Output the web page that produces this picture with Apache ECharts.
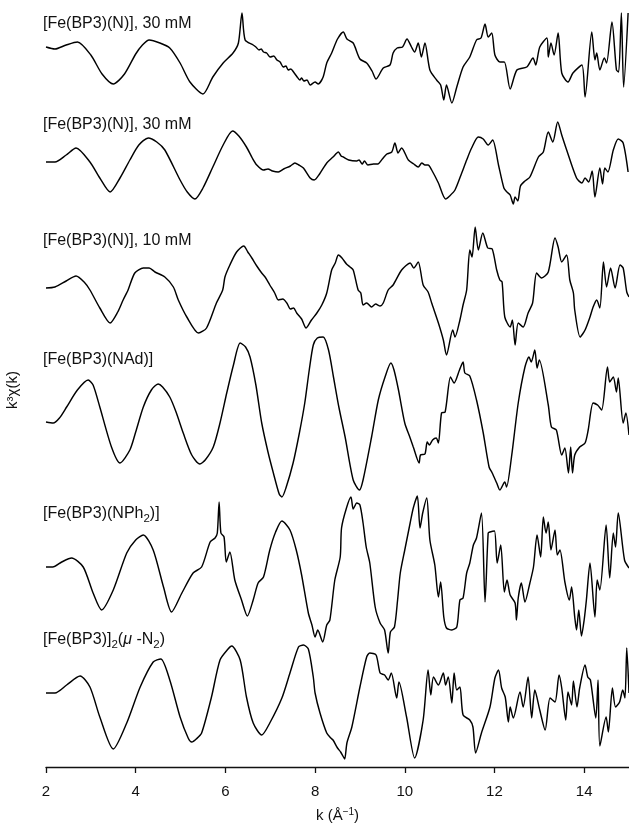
<!DOCTYPE html>
<html>
<head>
<meta charset="utf-8">
<title>EXAFS k3-weighted spectra</title>
<script src="https://cdn.jsdelivr.net/npm/echarts@6/dist/echarts.min.js"></script>
<style>
  html, body { margin: 0; padding: 0; background: #fff; }
  #chart { width: 629px; height: 827px; }
</style>
</head>
<body>
<div id="chart"></div>
<script>
// k axis tick labels (Å^-1)
const kTicks = [2, 4, 6, 8, 10, 12, 14];

// Sample names, top to bottom ({s|..} = subscript, {i|..} = italic)
const sampleNames = [
  '[Fe(BP3)(N)], 30 mM',
  '[Fe(BP3)(N)], 30 mM',
  '[Fe(BP3)(N)], 10 mM',
  '[Fe(BP3)(NAd)]',
  '[Fe(BP3)(NPh{s|2})]',
  '[Fe(BP3)]{s|2}({i|μ} -N{s|2})'
];

// k^3 chi(k) traces, [k, value] in arbitrary units
const traceN30a = [[2.00,0],[2.20,-2],[2.45,2],[2.70,5],[3.00,-8],[3.25,-27],[3.50,-37],[3.75,-27],[4.00,-7],[4.15,2],[4.30,7],[4.54,4],[4.76,-1],[4.99,-16],[5.21,-35],[5.50,-47],[5.72,-30],[5.95,-16],[6.17,-6],[6.29,4],[6.37,34],[6.44,7],[6.62,2],[6.68,0],[6.75,-3],[6.80,-2],[6.85,-5],[6.92,-6],[7.00,-10],[7.08,-9],[7.15,-13],[7.22,-15],[7.29,-20],[7.35,-19],[7.40,-23],[7.46,-22],[7.52,-25],[7.60,-30],[7.66,-33],[7.70,-31],[7.75,-34],[7.82,-33],[7.89,-38],[8.00,-35],[8.07,-37],[8.18,-30],[8.26,-16],[8.37,-6],[8.50,8],[8.63,15],[8.71,8],[8.85,4],[9.00,-12],[9.15,-16],[9.27,-24],[9.36,-32],[9.52,-21],[9.67,-18],[9.74,-6],[9.83,-1],[9.95,0],[10.05,8],[10.15,0],[10.22,-5],[10.30,4],[10.37,-10],[10.45,4],[10.56,-23],[10.71,-33],[10.80,-38],[10.87,-53],[10.93,-38],[11.05,-56],[11.16,-40],[11.30,-20],[11.45,-10],[11.60,7],[11.70,9],[11.79,23],[11.86,10],[11.94,14],[12.01,-8],[12.12,-15],[12.22,-15],[12.35,-42],[12.50,-23],[12.72,-20],[12.86,-11],[12.92,-18],[13.01,0],[13.17,9],[13.20,-10],[13.26,4],[13.33,-8],[13.42,14],[13.50,-26],[13.64,-35],[13.75,-26],[13.95,-18],[14.02,-50],[14.17,15],[14.24,-13],[14.28,-6],[14.35,-23],[14.45,-11],[14.50,-16],[14.62,25],[14.72,-23],[14.77,-25],[14.83,34],[14.88,-40],[14.98,34]];

const traceN30b = [[2.00,0],[2.20,0],[2.45,7],[2.67,14],[2.98,0],[3.20,-16],[3.43,-30],[3.65,-16],[3.87,2],[4.07,17],[4.28,24],[4.47,20],[4.65,12],[4.99,-18],[5.15,-30],[5.32,-37],[5.50,-26],[5.72,-5],[5.95,17],[6.16,31],[6.30,26],[6.47,15],[6.60,4],[6.70,-3],[6.85,-8],[6.95,-7],[7.05,-9],[7.18,-10],[7.30,-7],[7.45,-4],[7.55,-1],[7.64,-3],[7.74,-6],[7.89,-16],[7.98,-18],[8.10,-12],[8.26,-1],[8.40,5],[8.52,10],[8.58,6],[8.63,5],[8.75,2],[8.93,1],[8.98,2],[9.05,-2],[9.10,1],[9.18,-3],[9.30,-2],[9.40,-2],[9.50,3],[9.60,8],[9.71,10],[9.78,19],[9.85,9],[9.93,14],[10.08,2],[10.20,-2],[10.30,-5],[10.38,-1],[10.45,-3],[10.52,-3],[10.60,-8],[10.75,-21],[10.91,-37],[11.00,-34],[11.12,-28],[11.27,-11],[11.38,2],[11.49,14],[11.64,25],[11.75,23],[11.86,17],[11.96,22],[12.09,-3],[12.21,-26],[12.28,-30],[12.35,-33],[12.42,-42],[12.46,-35],[12.52,-39],[12.58,-24],[12.68,-19],[12.79,-15],[12.98,5],[13.09,10],[13.20,30],[13.30,20],[13.41,40],[13.50,27],[13.61,12],[13.83,-16],[13.95,-21],[14.02,-16],[14.10,-20],[14.18,-9],[14.24,-35],[14.35,-6],[14.41,-22],[14.46,-6],[14.53,-10],[14.65,12],[14.76,23],[14.87,19],[14.98,-10]];

const traceN10 = [[2.00,0],[2.20,1],[2.45,7],[2.67,12],[2.85,6],[2.98,-2],[3.20,-20],[3.43,-35],[3.60,-24],[3.72,-12],[3.83,-2],[3.98,15],[4.17,20],[4.30,20],[4.43,16],[4.65,11],[4.84,1],[4.95,-12],[5.14,-29],[5.40,-45],[5.58,-40],[5.80,-15],[5.94,-2],[5.99,11],[6.10,23],[6.25,36],[6.41,42],[6.50,36],[6.59,30],[6.70,22],[6.81,15],[6.90,10],[6.99,3],[7.10,-5],[7.18,-12],[7.28,-11],[7.37,-15],[7.45,-21],[7.52,-20],[7.59,-25],[7.70,-31],[7.80,-40],[7.92,-32],[8.04,-25],[8.15,-17],[8.26,-5],[8.37,18],[8.45,25],[8.52,33],[8.60,30],[8.70,24],[8.78,21],[8.85,18],[8.96,-2],[9.02,-5],[9.07,-17],[9.15,-15],[9.26,-19],[9.35,-16],[9.45,-18],[9.52,-15],[9.63,-2],[9.74,3],[9.93,18],[10.12,25],[10.20,20],[10.30,26],[10.41,3],[10.52,-4],[10.60,-15],[10.75,-35],[10.86,-52],[10.93,-67],[11.07,-42],[11.12,-49],[11.23,-32],[11.30,-17],[11.38,-2],[11.45,38],[11.50,31],[11.57,61],[11.64,38],[11.74,55],[11.85,40],[11.95,39],[12.05,18],[12.12,8],[12.17,6],[12.23,-29],[12.35,-39],[12.40,-32],[12.46,-57],[12.53,-35],[12.64,-39],[12.75,-25],[12.85,-15],[12.94,15],[13.05,10],[13.20,16],[13.35,50],[13.42,41],[13.50,26],[13.61,33],[13.68,8],[13.76,-5],[13.79,-22],[13.91,-49],[14.02,-42],[14.13,-29],[14.20,-19],[14.28,-12],[14.35,-20],[14.43,26],[14.50,1],[14.59,20],[14.69,0],[14.80,23],[14.87,20],[14.95,-4],[15.00,-9]];

const traceNAd = [[2.00,0],[2.16,-1],[2.30,4],[2.46,15],[2.70,32],[2.94,42],[3.05,37],[3.20,15],[3.46,-25],[3.65,-41],[3.87,-28],[4.00,-10],[4.17,15],[4.35,32],[4.50,38],[4.60,35],[4.76,25],[4.90,10],[5.06,-11],[5.25,-33],[5.43,-42],[5.55,-38],[5.73,-25],[5.88,-1],[6.03,29],[6.18,57],[6.33,79],[6.45,75],[6.55,65],[6.68,37],[6.81,-1],[6.95,-30],[7.07,-51],[7.20,-72],[7.26,-75],[7.35,-66],[7.51,-41],[7.65,-11],[7.77,19],[7.87,52],[7.96,77],[8.05,84],[8.18,85],[8.30,72],[8.41,45],[8.53,15],[8.67,-15],[8.85,-58],[8.99,-68],[9.07,-58],[9.26,-15],[9.41,22],[9.56,45],[9.69,59],[9.76,52],[9.86,32],[10.00,-1],[10.12,-16],[10.19,-25],[10.32,-41],[10.35,-33],[10.45,-32],[10.50,-20],[10.55,-23],[10.62,-18],[10.70,-16],[10.75,-21],[10.82,9],[10.90,10],[11.02,45],[11.10,39],[11.22,52],[11.30,60],[11.34,49],[11.45,46],[11.60,22],[11.75,-11],[11.88,-45],[11.95,-51],[12.05,-61],[12.12,-68],[12.23,-60],[12.27,-65],[12.38,-35],[12.53,19],[12.68,55],[12.77,65],[12.82,60],[12.90,72],[12.95,54],[13.00,62],[13.20,17],[13.27,-5],[13.38,-8],[13.50,-33],[13.57,-26],[13.65,-51],[13.70,-25],[13.74,-51],[13.79,-33],[13.90,-25],[14.02,-21],[14.09,-8],[14.20,19],[14.30,17],[14.39,12],[14.52,55],[14.57,40],[14.65,45],[14.72,30],[14.76,44],[14.87,-1],[14.93,9],[15.00,-13]];

const traceNPh2 = [[2.00,0],[2.15,0],[2.35,5],[2.57,9],[2.83,0],[3.05,-26],[3.24,-43],[3.50,-23],[3.80,14],[4.00,27],[4.17,32],[4.39,17],[4.62,-20],[4.80,-45],[5.03,-26],[5.28,-6],[5.47,0],[5.66,25],[5.77,29],[5.82,34],[5.86,65],[5.90,34],[5.97,30],[6.02,5],[6.10,15],[6.21,-13],[6.36,-33],[6.49,-49],[6.62,-33],[6.73,-16],[6.85,-10],[6.99,17],[7.12,35],[7.26,46],[7.44,37],[7.58,17],[7.70,-8],[7.85,-46],[7.93,-58],[8.00,-70],[8.06,-63],[8.17,-75],[8.26,-58],[8.33,-53],[8.44,-13],[8.56,10],[8.59,39],[8.70,59],[8.80,70],[8.85,58],[8.93,64],[9.00,62],[9.07,44],[9.14,20],[9.22,4],[9.34,-40],[9.45,-56],[9.55,-63],[9.63,-86],[9.68,-65],[9.77,-60],[9.84,-33],[9.90,-6],[10.00,17],[10.12,44],[10.19,59],[10.28,71],[10.34,39],[10.40,54],[10.49,69],[10.56,27],[10.67,2],[10.75,-30],[10.80,-15],[10.87,-50],[10.93,-61],[11.05,-63],[11.16,-60],[11.23,-33],[11.30,-31],[11.38,-6],[11.45,4],[11.53,22],[11.60,29],[11.71,54],[11.79,-35],[11.86,34],[11.90,35],[12.00,36],[12.06,4],[12.14,22],[12.22,-25],[12.28,-13],[12.35,-28],[12.46,-36],[12.49,-53],[12.53,-31],[12.60,-16],[12.68,-35],[12.79,-16],[12.87,0],[12.95,32],[13.03,10],[13.09,50],[13.15,34],[13.20,45],[13.26,17],[13.35,37],[13.40,12],[13.46,17],[13.57,-15],[13.67,-33],[13.72,-20],[13.79,-50],[13.83,-63],[13.88,-43],[13.94,-69],[14.00,-53],[14.05,-33],[14.13,4],[14.24,-50],[14.29,-13],[14.35,-23],[14.49,42],[14.57,-11],[14.65,34],[14.70,20],[14.76,54],[14.90,7],[15.00,-1]];

const traceN2 = [[2.00,0],[2.20,0],[2.46,8],[2.76,17],[2.98,6],[3.20,-24],[3.50,-56],[3.80,-30],[4.10,6],[4.39,31],[4.56,34],[4.76,13],[4.99,-24],[5.17,-45],[5.25,-49],[5.35,-46],[5.47,-40],[5.69,-4],[5.88,33],[6.06,44],[6.14,47],[6.33,33],[6.47,-4],[6.62,-30],[6.81,-42],[6.99,-30],[7.26,-5],[7.44,20],[7.63,46],[7.74,48],[7.85,44],[7.96,16],[8.00,0],[8.11,-20],[8.26,-40],[8.35,-45],[8.40,-47],[8.50,-55],[8.57,-59],[8.62,-63],[8.66,-66],[8.71,-50],[8.82,-34],[9.00,6],[9.15,36],[9.22,40],[9.36,38],[9.45,20],[9.55,18],[9.63,13],[9.70,20],[9.82,-5],[9.87,11],[10.04,-24],[10.22,-65],[10.41,-27],[10.52,23],[10.58,-2],[10.64,16],[10.75,8],[10.86,20],[10.91,8],[10.97,16],[11.05,-10],[11.10,20],[11.16,3],[11.23,6],[11.30,-22],[11.45,-27],[11.52,-34],[11.58,-60],[11.71,-40],[11.90,-14],[12.01,15],[12.09,23],[12.16,5],[12.24,-4],[12.31,-29],[12.35,-14],[12.42,-25],[12.57,1],[12.64,-14],[12.75,16],[12.83,-25],[12.90,3],[13.01,-17],[13.13,-37],[13.24,-5],[13.35,-9],[13.44,18],[13.50,5],[13.59,-27],[13.64,1],[13.72,-12],[13.76,12],[13.84,-14],[13.90,5],[14.02,28],[14.08,16],[14.14,13],[14.26,-25],[14.31,13],[14.35,-53],[14.49,-24],[14.54,-39],[14.63,5],[14.70,-14],[14.79,-9],[14.86,3],[14.91,-5],[14.95,45],[15.00,0]];

const traces = [traceN30a, traceN30b, traceN10, traceNAd, traceNPh2, traceN2];

// vertical offsets used to stack the traces
const stackOffsets = [720, 605, 479, 345, 200, 74];
// vertical centre (px) of each sample name
const nameY = [24, 125, 241, 360, 514, 640];

const FONT = '"Liberation Sans", Arial, Helvetica, sans-serif';

const chart = echarts.init(document.getElementById('chart'), null, { renderer: 'canvas' });

const series = traces.map((tr, i) => ({
  type: 'line',
  data: tr.map(([k, v]) => [k, v + stackOffsets[i]]),
  showSymbol: false,
  smooth: 0.25,
  lineStyle: { color: '#000', width: 1.45 },
  silent: true,
  animation: false
}));

const nameRich = {
  s: { fontFamily: FONT, fontSize: 11.5, lineHeight: 12, verticalAlign: 'bottom', fill: '#111' },
  i: { fontFamily: FONT, fontSize: 16, fontStyle: 'italic', lineHeight: 21, fill: '#111' }
};

const graphics = sampleNames.map((name, i) => ({
  type: 'text',
  x: 43,
  y: nameY[i],
  silent: true,
  style: {
    text: name,
    fontFamily: FONT,
    fontSize: 16,
    lineHeight: 21,
    fill: '#111',
    align: 'left',
    verticalAlign: 'middle',
    rich: nameRich
  }
}));

graphics.push({
  type: 'text',
  x: 13,
  y: 390,
  rotation: Math.PI / 2,
  silent: true,
  style: {
    text: 'k³χ(k)',
    fontFamily: FONT,
    fontSize: 15,
    fill: '#111',
    align: 'center',
    verticalAlign: 'middle'
  }
});

chart.setOption({
  animation: false,
  backgroundColor: '#fff',
  grid: { left: 46, right: 0, top: 0, bottom: 60, containLabel: false, outerBoundsMode: 'none' },
  xAxis: {
    type: 'value',
    min: 2,
    max: 15,
    interval: 2,
    splitLine: { show: false },
    axisLine: { show: true, onZero: false, lineStyle: { color: '#111', width: 1.3 } },
    axisTick: { show: true, length: 6, inside: false, customValues: kTicks, lineStyle: { color: '#111', width: 1.3 } },
    axisLabel: { customValues: kTicks, fontFamily: FONT, fontSize: 15, color: '#111', margin: 17 },
    name: 'k (Å{sup|−1})',
    nameLocation: 'middle',
    nameGap: 40,
    nameTextStyle: {
      fontFamily: FONT,
      fontSize: 15,
      color: '#111',
      lineHeight: 18,
      rich: { sup: { fontFamily: FONT, fontSize: 10, lineHeight: 10, verticalAlign: 'top', color: '#111' } }
    }
  },
  yAxis: { type: 'value', min: 0, max: 767, show: false },
  graphic: graphics,
  series: series
});
</script>
</body>
</html>
